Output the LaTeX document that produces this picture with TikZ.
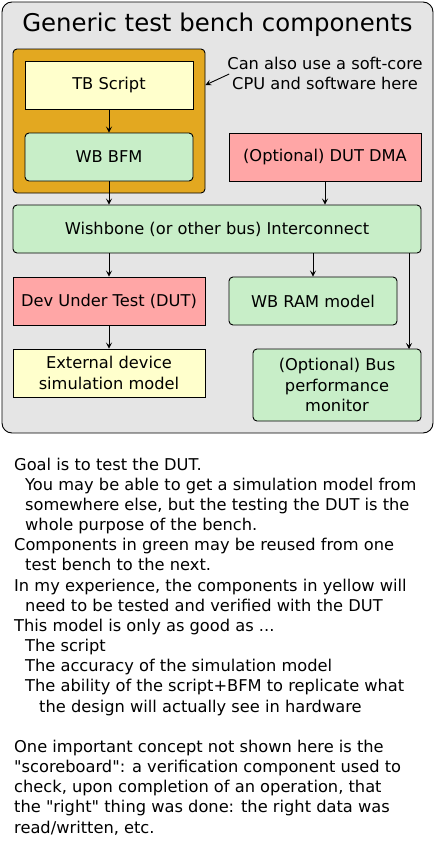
\documentclass[tikz,border=0pt]{standalone}
\usepackage{fontspec}
\setmainfont{DejaVu Sans}
\usetikzlibrary{arrows.meta,calc}
\definecolor{bggray}{HTML}{E5E5E5}
\definecolor{orng}{HTML}{E3A820}
\definecolor{ylw}{HTML}{FFFFCC}
\definecolor{grn}{HTML}{C8EEC8}
\definecolor{pnk}{HTML}{FFA6A6}
\tikzset{
  box/.style={draw=black, line width=0.9pt, inner sep=0pt, align=center,
    font=\fontsize{16.25}{20.3}\selectfont},
  yelbox/.style={box, fill=ylw},
  grnbox/.style={box, fill=grn, rounded corners=4pt},
  pnkbox/.style={box, fill=pnk},
  conn/.style={-{Stealth[length=6pt,width=6pt,inset=2.5pt]}, line width=0.9pt},
}
\begin{document}
\begin{tikzpicture}[x=1pt,y=-1pt]
\useasboundingbox (0,0) rectangle (435,841);
\node[draw=black, line width=0.9pt, fill=bggray, rounded corners=10pt, minimum width=431pt, minimum height=431pt, inner sep=0pt] (outer) at (217.5,217.5) {};
\node[font=\fontsize{24.4}{28}\selectfont] (title) at (217.5,25) {Generic test bench components};
\node[draw=black, line width=0.9pt, fill=orng, rounded corners=4pt, minimum width=192pt, minimum height=144pt, inner sep=0pt] (orange) at (109,121) {};
\node[yelbox, minimum width=168pt, minimum height=48pt] (tb) at (109,85) {TB Script};
\node[grnbox, minimum width=168pt, minimum height=48pt] (bfm) at (109,157) {WB BFM};
\node[pnkbox, minimum width=192pt, minimum height=48pt] (dma) at (325,157) {(Optional) DUT DMA};
\node[grnbox, minimum width=408pt, minimum height=48pt] (ic) at (217,229) {Wishbone (or other bus) Interconnect};
\node[pnkbox, minimum width=192pt, minimum height=48pt] (dut) at (109,301) {Dev Under Test (DUT)};
\node[grnbox, minimum width=168pt, minimum height=48pt] (ram) at (313,301) {WB RAM model};
\node[yelbox, minimum width=192pt, minimum height=48pt] (ext) at (109,373) {External device\\simulation model};
\node[grnbox, minimum width=168pt, minimum height=72pt] (mon) at (337,385) {(Optional) Bus\\performance\\monitor};
\node[align=center, font=\fontsize{16.25}{20}\selectfont, inner sep=0pt] (note) at (325,73) {Can also use a soft-core\\CPU and software here};
\coordinate (monin) at (409,349);
\draw[conn] (tb) -- (bfm);
\draw[conn] (bfm.south) -- (bfm.south |- ic.north);
\draw[conn] (dma.south) -- (dma.south |- ic.north);
\draw[conn] (dut.north |- ic.south) -- (dut.north);
\draw[conn] (ram.north |- ic.south) -- (ram.north);
\draw[conn] (monin |- ic.south) -- (monin);
\draw[conn] (dut) -- (ext);
\draw[conn] ([xshift=2pt,yshift=-1pt]note.west) -- (orange.east |- tb.east);
\node[anchor=north west, align=left, inner sep=0pt, font=\fontsize{16.25}{20.17}\selectfont] (body) at (14,457.5) {%
Goal is to test the DUT.\\
\hspace*{11pt}You may be able to get a simulation model from\\
\hspace*{11pt}somewhere else, but the testing the DUT is the\\
\hspace*{11pt}whole purpose of the bench.\\
Components in green may be reused from one\\
\hspace*{11pt}test bench to the next.\\
In my experience, the components in yellow will\\
\hspace*{11pt}need to be tested and verified with the DUT\\
This model is only as good as ...\\
\hspace*{11pt}The script\\
\hspace*{11pt}The accuracy of the simulation model\\
\hspace*{11pt}The ability of the script+BFM to replicate what\\
\hspace*{25pt}the design will actually see in hardware\\[20.17pt]
One important concept not shown here is the\\
\textquotedbl scoreboard\textquotedbl: a verification component used to\\
check, upon completion of an operation, that\\
the \textquotedbl right\textquotedbl\ thing was done: the right data was\\
read/written, etc.};
\end{tikzpicture}
\end{document}
